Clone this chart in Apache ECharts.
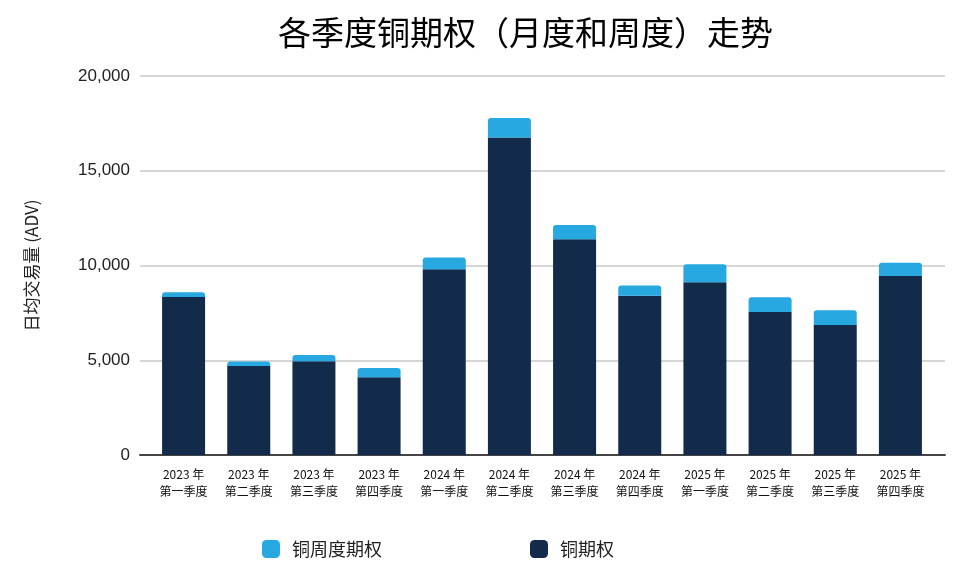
<!DOCTYPE html>
<html>
<head>
<meta charset="utf-8">
<script src="https://cdn.jsdelivr.net/npm/echarts@6/dist/echarts.min.js"></script>
<style>
  html, body { margin: 0; padding: 0; background: #fff; }
  #chart { width: 980px; height: 576px; }
</style>
</head>
<body>
<div id="chart"></div>
<script>
// 季度
var quarters = [
    '2023 年\n第一季度', '2023 年\n第二季度', '2023 年\n第三季度', '2023 年\n第四季度',
    '2024 年\n第一季度', '2024 年\n第二季度', '2024 年\n第三季度', '2024 年\n第四季度',
    '2025 年\n第一季度', '2025 年\n第二季度', '2025 年\n第三季度', '2025 年\n第四季度'
];
// 铜期权（月度）日均交易量
var copperOptions = [8340, 4700, 4950, 4100, 9800, 16750, 11380, 8410, 9120, 7550, 6860, 9450];
// 铜周度期权 日均交易量
var copperWeekly = [250, 230, 330, 490, 620, 1030, 760, 530, 950, 780, 780, 700];

var yMin = 0, yMax = 20000, yStep = 5000;

function fmt(v) {
    return String(v).replace(/\B(?=(\d{3})+(?!\d))/g, ',');
}

var cnFont = "'Noto Sans CJK SC', sans-serif";
var numFont = "'Liberation Sans', Arial, sans-serif";

var option = {
    backgroundColor: '#fff',
    animation: false,
    title: {
        text: '各季度铜期权（月度和周度）走势',
        left: 273,
        top: 11,
        textStyle: { fontFamily: cnFont, fontSize: 33, fontWeight: 'normal', color: '#000' }
    },
    legend: {
        data: ['铜周度期权', '铜期权'],
        left: 257,
        top: 535,
        itemWidth: 18,
        itemHeight: 18,
        itemGap: 148,
        icon: 'roundRect',
        textStyle: { fontFamily: cnFont, fontSize: 18, color: '#222', padding: [0, 0, 0, 7] }
    },
    grid: [
        { left: 151, right: 47, top: 76, bottom: 121 },
        { left: 140, right: 35, top: 76, bottom: 121 }
    ],
    xAxis: [
        {
            type: 'category',
            gridIndex: 0,
            data: quarters,
            axisLine: { show: false },
            axisTick: { show: false },
            axisLabel: {
                margin: 11,
                fontFamily: cnFont,
                fontSize: 12,
                lineHeight: 17,
                color: '#111'
            }
        },
        {
            type: 'value',
            gridIndex: 1,
            min: 0,
            max: 1,
            axisLine: { show: true, onZero: false, lineStyle: { color: '#444', width: 2 } },
            axisTick: { show: false },
            axisLabel: { show: false },
            splitLine: { show: false }
        }
    ],
    yAxis: [
        {
            type: 'value',
            gridIndex: 0,
            min: yMin,
            max: yMax,
            interval: yStep,
            show: false,
            splitLine: { show: false }
        },
        {
            type: 'value',
            gridIndex: 1,
            min: yMin,
            max: yMax,
            interval: yStep,
            name: '日均交易量 (ADV)',
            nameLocation: 'middle',
            nameRotate: 90,
            nameGap: 100,
            nameTextStyle: { fontFamily: cnFont, fontSize: 17, color: '#222' },
            axisLine: { show: false },
            axisTick: { show: false },
            axisLabel: {
                margin: 10,
                fontFamily: numFont,
                fontSize: 17,
                color: '#222',
                formatter: fmt
            },
            splitLine: { lineStyle: { color: '#c8c8c8', width: 1.5 } }
        }
    ],
    series: [
        {
            name: '铜期权',
            type: 'bar',
            stack: 'total',
            xAxisIndex: 0,
            yAxisIndex: 0,
            barWidth: 43,
            data: copperOptions,
            itemStyle: { color: '#122b4a' }
        },
        {
            name: '铜周度期权',
            type: 'bar',
            stack: 'total',
            xAxisIndex: 0,
            yAxisIndex: 0,
            barWidth: 43,
            data: copperWeekly,
            itemStyle: { color: '#27a8e0', borderRadius: [3, 3, 0, 0] }
        }
    ]
};

var chart = echarts.init(document.getElementById('chart'));
chart.setOption(option);
window.onresize = function () {
    chart.resize();
};
</script>
</body>
</html>
